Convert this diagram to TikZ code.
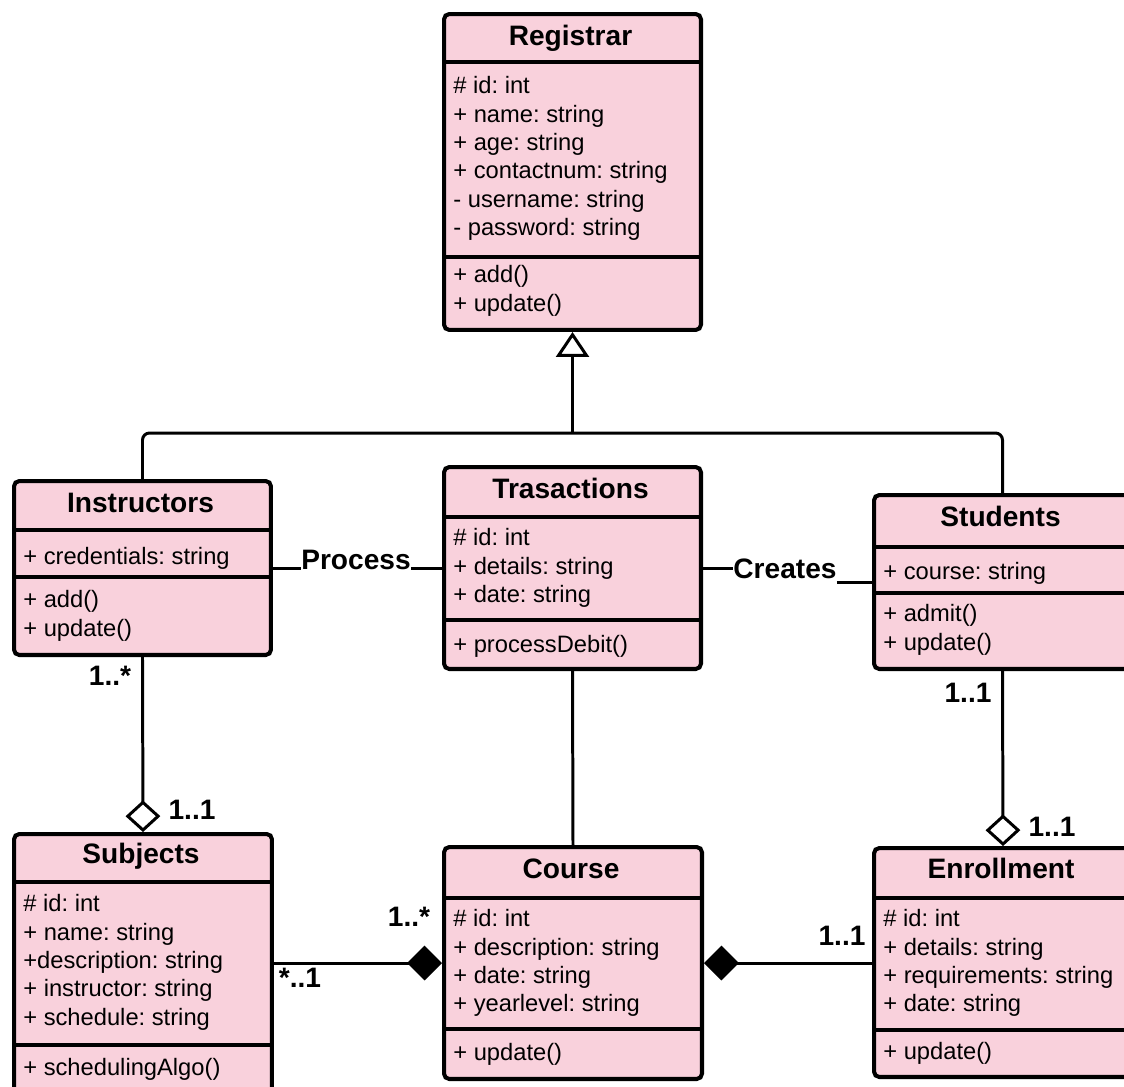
\documentclass[tikz,border=0pt]{standalone}
\usepackage{fontspec}
\setmainfont{Liberation Sans}
\usetikzlibrary{arrows.meta, positioning}
\definecolor{umlpink}{HTML}{F9D1DC}

\begin{document}
\frenchspacing
\begin{tikzpicture}[x=0.02cm, y=-0.02cm,
    classbox/.style={draw, line width=2.3pt, rounded corners=3pt, fill=umlpink, inner sep=0pt, anchor=north west, minimum width=5.14cm},
    sepline/.style={line width=2.3pt},
    classname/.style={font=\fontsize{16}{19}\selectfont\bfseries, anchor=base, inner sep=0pt},
    members/.style={font=\fontsize{13.5}{16.2}\selectfont, align=left, anchor=north west, inner sep=0pt, execute at begin node=\strut},
    conn/.style={line width=1.7pt},
    mult/.style={font=\fontsize{16}{19}\selectfont\bfseries, inner sep=0pt}]
    \useasboundingbox (0,0) rectangle (1124,1086);
    \clip (0,0) rectangle (1124,1086);

    % Registrar class
    \node[classbox, minimum height=6.32cm] (reg) at (442,12) {};
    \draw[sepline] (reg.west |- 0,62) -- (reg.east |- 0,62);
    \draw[sepline] (reg.west |- 0,257) -- (reg.east |- 0,257);
    \node[classname] (regname) at (570.5,45) {Registrar};
    \node[members] (regattr) at (453,76) {\# id: int\\+ name: string\\+ age: string\\+ contactnum: string\\- username: string\\- password: string};
    \node[members] (regops) at (453,265) {+ add()\\+ update()};

    % Instructors class
    \node[classbox, minimum height=3.48cm] (inst) at (12,479) {};
    \draw[sepline] (inst.west |- 0,530) -- (inst.east |- 0,530);
    \draw[sepline] (inst.west |- 0,577) -- (inst.east |- 0,577);
    \node[classname] (instname) at (140.5,512) {Instructors};
    \node[members] (instattr) at (23,544) {+ credentials: string};
    \node[members] (instops) at (23,590) {+ add()\\+ update()};

    % Trasactions class
    \node[classbox, minimum height=4.04cm] (trans) at (442,465) {};
    \draw[sepline] (trans.west |- 0,517) -- (trans.east |- 0,517);
    \draw[sepline] (trans.west |- 0,620) -- (trans.east |- 0,620);
    \node[classname] (transname) at (570.5,498) {Trasactions};
    \node[members] (transattr) at (453,528) {\# id: int\\+ details: string\\+ date: string};
    \node[members] (transops) at (453,632) {+ processDebit()};

    % Students class
    \node[classbox, minimum height=3.48cm] (stud) at (872,493) {};
    \draw[sepline] (stud.west |- 0,547) -- (stud.east |- 0,547);
    \draw[sepline] (stud.west |- 0,593) -- (stud.east |- 0,593);
    \node[classname] (studname) at (1000.5,526) {Students};
    \node[members] (studattr) at (883,559) {+ course: string};
    \node[members] (studops) at (883,604) {+ admit()\\+ update()};

    % Subjects class
    \node[classbox, minimum width=5.16cm, minimum height=5.4cm] (subj) at (12,832) {};
    \draw[sepline] (subj.west |- 0,882) -- (subj.east |- 0,882);
    \draw[sepline] (subj.west |- 0,1045) -- (subj.east |- 0,1045);
    \node[classname] (subjname) at (141,863) {Subjects};
    \node[members] (subjattr) at (23,894) {\# id: int\\+ name: string\\+description: string\\+ instructor: string\\+ schedule: string};
    \node[members] (subjops) at (23,1055) {+ schedulingAlgo()};

    % Course class
    \node[classbox, minimum width=5.16cm, minimum height=4.64cm] (course) at (442,845) {};
    \draw[sepline] (course.west |- 0,898) -- (course.east |- 0,898);
    \draw[sepline] (course.west |- 0,1029) -- (course.east |- 0,1029);
    \node[classname] (coursename) at (571,878) {Course};
    \node[members] (courseattr) at (453,909) {\# id: int\\+ description: string\\+ date: string\\+ yearlevel: string};
    \node[members] (courseops) at (453,1040) {+ update()};

    % Enrollment class
    \node[classbox, minimum width=5.16cm, minimum height=4.58cm] (enrol) at (872,846) {};
    \draw[sepline] (enrol.west |- 0,898) -- (enrol.east |- 0,898);
    \draw[sepline] (enrol.west |- 0,1030) -- (enrol.east |- 0,1030);
    \node[classname] (enrolname) at (1001,878) {Enrollment};
    \node[members] (enrolattr) at (883,909) {\# id: int\\+ details: string\\+ requirements: string\\+ date: string};
    \node[members] (enrolops) at (883,1039) {+ update()};

    % Generalization
    \coordinate (hub) at (570,433);
    \draw[conn, rounded corners=4pt] (inst.north) |- (hub) -| (stud.north);
    \draw[conn, -{Triangle[open, width=18.7pt, length=14.2pt]}] (reg.south |- hub) -- (reg.south);

    % Associations
    \node[mult] (process) at (356,560) {Process};
    \draw[conn] (inst.east) -- (process.west |- inst.east);
    \draw[conn] (process.east |- inst.east) -- (trans.west |- inst.east);
    \node[mult] (creates) at (785,569) {Creates};
    \draw[conn] (trans.east) -- (creates.west |- trans.east);
    \draw[conn] (creates.east |- stud.west) -- (stud.west);
    \draw[conn] (trans.south) -- (course.north);

    % Aggregation and composition
    \draw[conn, -{Diamond[open, width=19.8pt, length=18pt]}] (inst.south) -- (subj.north);
    \draw[conn, -{Diamond[open, width=19.8pt, length=18pt]}] (stud.south) -- (enrol.north);
    \draw[conn, -{Diamond[width=19.8pt, length=19.8pt]}] (subj.east |- course.west) -- (course.west);
    \draw[conn, {Diamond[width=19.8pt, length=19.8pt]}-] (course.east) -- (enrol.west |- course.east);

    % Multiplicities
    \node[mult] (m1) at (110,676) {1..*};
    \node[mult] (m2) at (192,810) {1..1};
    \node[mult] (m3) at (968,693) {1..1};
    \node[mult] (m4) at (1052,827) {1..1};
    \node[mult] (m5) at (409,917) {1..*};
    \node[mult] (m6) at (300,978) {*..1};
    \node[mult] (m7) at (842,936) {1..1};
\end{tikzpicture}
\end{document}
